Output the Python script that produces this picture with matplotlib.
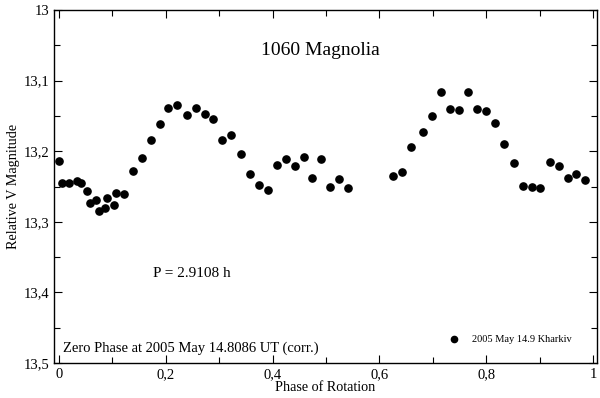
import matplotlib
matplotlib.use("Agg")
import matplotlib.pyplot as plt
from matplotlib.ticker import MultipleLocator, FuncFormatter

phase = [0.0006, 0.0056, 0.018, 0.0343, 0.0406, 0.0524, 0.0575, 0.0699, 0.0743, 0.0856,
         0.0904, 0.103, 0.1073, 0.1217, 0.138, 0.1554, 0.1723, 0.1891, 0.2047, 0.2215,
         0.2391, 0.256, 0.2728, 0.2884, 0.3058, 0.3227, 0.3408, 0.3577, 0.3745, 0.3908,
         0.4077, 0.4245, 0.4414, 0.4582, 0.4743, 0.4912, 0.508, 0.5249, 0.5418,
         0.6255, 0.6418, 0.6586, 0.6822, 0.6991, 0.7159, 0.7328, 0.749, 0.7659, 0.7828,
         0.7996, 0.817, 0.8339, 0.8515, 0.8689, 0.8852, 0.9013, 0.9189, 0.9358, 0.9532,
         0.9687, 0.9856]
mag = [13.2145, 13.2457, 13.2457, 13.2415, 13.2457, 13.2557, 13.2727, 13.2695, 13.2845, 13.2798,
       13.2666, 13.276, 13.2595, 13.261, 13.2287, 13.2098, 13.1837, 13.1615, 13.1388, 13.1345,
       13.1482, 13.1392, 13.1477, 13.1544, 13.1837, 13.1776, 13.2045, 13.2325, 13.2476, 13.2547,
       13.2197, 13.2116, 13.2206, 13.2078, 13.2376, 13.2116, 13.2514, 13.2396, 13.2528,
       13.2358, 13.2297, 13.1946, 13.1729, 13.1506, 13.1165, 13.1396, 13.1416, 13.1165, 13.1396,
       13.1435, 13.1595, 13.1903, 13.2163, 13.2486, 13.251, 13.2528, 13.2155, 13.2206, 13.2386,
       13.233, 13.2405]

title_text = "1060 Magnolia"
period_text = "P = 2.9108 h"
zero_text = "Zero Phase at 2005 May 14.8086 UT (corr.)"
legend_label = "2005 May 14.9 Kharkiv"

plt.rcParams['font.family'] = ['Liberation Serif', 'DejaVu Serif']

fig = plt.figure(figsize=(6.0, 3.98), dpi=100)
ax = fig.add_axes([0.09, 0.0879, 0.905, 0.887])

ax.plot(phase, mag, 'o', color='black', markersize=5.2)

ax.set_xlim(-0.0094, 1.0075)
ax.set_ylim(13.5, 13.0)

ax.xaxis.set_major_locator(MultipleLocator(0.2))
ax.xaxis.set_minor_locator(MultipleLocator(0.1))
ax.yaxis.set_major_locator(MultipleLocator(0.1))
ax.yaxis.set_minor_locator(MultipleLocator(0.05))

def fmt(v, pos):
    s = f"{v:.1f}"
    if s.endswith(".0"):
        s = s[:-2]
    return s.replace('.', ',')

ax.xaxis.set_major_formatter(FuncFormatter(fmt))
ax.yaxis.set_major_formatter(FuncFormatter(fmt))

ax.tick_params(which='both', direction='in', top=True, right=True, labelsize=10.5, width=0.8)
ax.tick_params(which='major', length=6)
ax.tick_params(which='minor', length=4)
for s in ax.spines.values():
    s.set_linewidth(1.0)

ax.set_xlabel("Phase of Rotation", fontsize=10.2)
ax.set_ylabel("Relative V Magnitude", fontsize=10.2)
ax.xaxis.set_label_coords(0.5, -0.052)
ax.yaxis.set_label_coords(-0.062, 0.5)

ax.text(0.489, 13.058, title_text, fontsize=14, ha='center', va='center')
ax.text(0.249, 13.3736, period_text, fontsize=11, ha='center', va='center')
ax.text(0.0075, 13.479, zero_text, fontsize=10.5, ha='left', va='center')
ax.plot([0.740], [13.466], 'o', color='black', markersize=4.5)
ax.text(0.773, 13.466, legend_label, fontsize=7.5, ha='left', va='center')

fig.savefig("out.png", dpi=100)
